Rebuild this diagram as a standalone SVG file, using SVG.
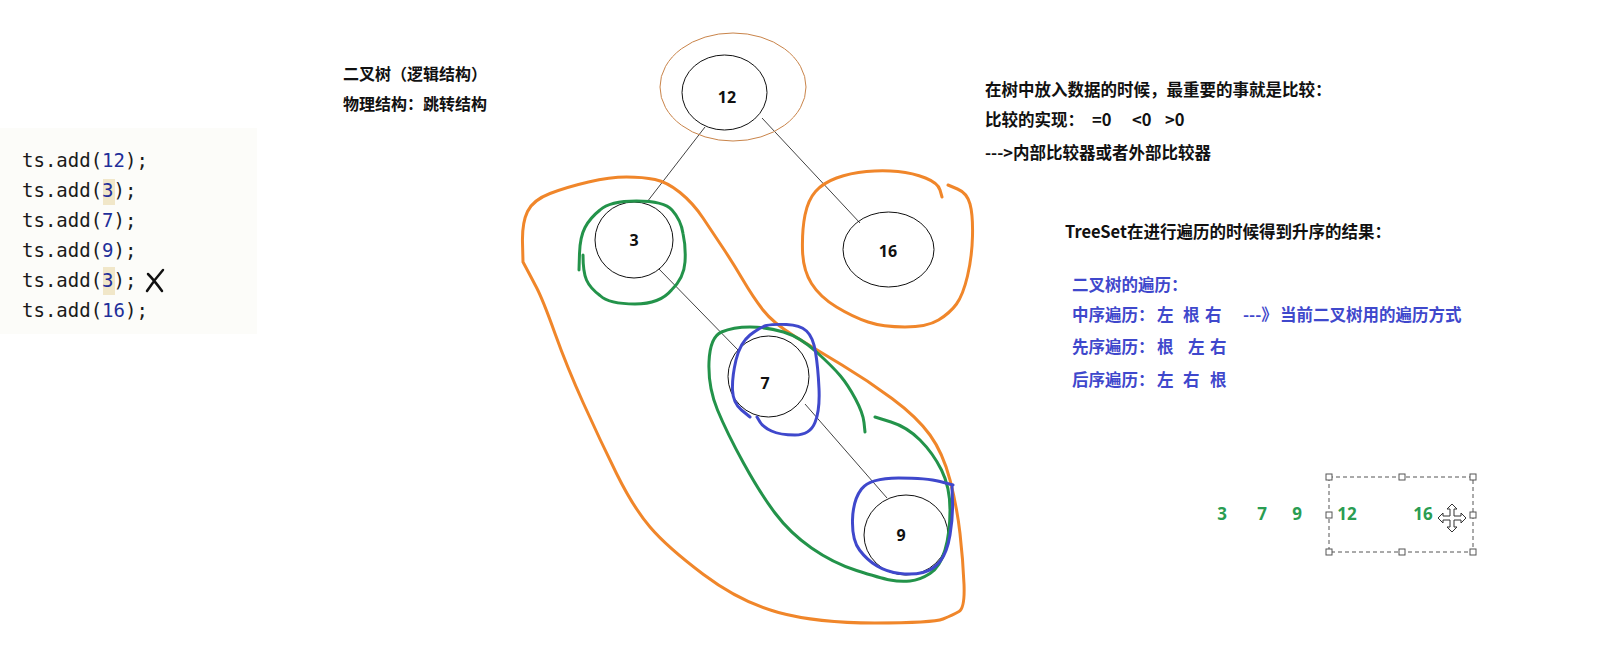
<svg xmlns="http://www.w3.org/2000/svg" width="1602" height="667" viewBox="0 0 1602 667">
<style>
.code{font-family:"DejaVu Sans Mono","Liberation Mono",monospace;font-size:19px;fill:#1a1a1a}
.num{fill:#1f2f9a}
.cn{font-family:"Noto Sans CJK SC","Noto Sans",sans-serif;font-size:16.5px;font-weight:bold;fill:#111}
.t1{font-size:16px}
.blue{fill:#3f48cc}
.grn{font-family:"Noto Sans","Liberation Sans",sans-serif;font-size:17px;font-weight:bold;fill:#2a9d52}
.node ellipse{fill:none;stroke:#111;stroke-width:1}
.node text{font-family:"Noto Sans","Liberation Sans",sans-serif;font-size:16px;font-weight:bold;fill:#111;text-anchor:middle}
.edge{stroke:#111;stroke-width:0.8;fill:none}
.o{fill:none;stroke:#f0862a;stroke-width:3;stroke-linecap:round;stroke-linejoin:round}
.g{fill:none;stroke:#23934a;stroke-width:3;stroke-linecap:round;stroke-linejoin:round}
.b{fill:none;stroke:#3f48cc;stroke-width:3;stroke-linecap:round;stroke-linejoin:round}
.h{fill:#fff;stroke:#555;stroke-width:1}
</style>
<rect width="1602" height="667" fill="#fff"/>
<rect x="0" y="128" width="257" height="206" fill="#fcfcf9"/>
<g id="code">
<rect x="103" y="179" width="12" height="26" fill="#f1e7c9"/>
<rect x="103" y="267" width="12" height="28" fill="#f1e7c9"/>
<text class="code" x="22" y="167">ts.add(<tspan class="num">12</tspan>);</text>
<text class="code" x="22" y="197">ts.add(<tspan class="num">3</tspan>);</text>
<text class="code" x="22" y="227">ts.add(<tspan class="num">7</tspan>);</text>
<text class="code" x="22" y="257">ts.add(<tspan class="num">9</tspan>);</text>
<text class="code" x="22" y="287">ts.add(<tspan class="num">3</tspan>);</text>
<text class="code" x="22" y="317">ts.add(<tspan class="num">16</tspan>);</text>
<path d="M148 274 Q154 280 162 291 M163 270 Q155 279 147 291" fill="none" stroke="#111" stroke-width="2.5" stroke-linecap="round"/>
</g>
<g id="titles">
<text class="cn t1" x="343" y="80">二叉树（逻辑结构）</text>
<text class="cn t1" x="343" y="110">物理结构：跳转结构</text>
<text class="cn" x="985" y="96">在树中放入数据的时候，最重要的事就是比较：</text>
<text class="cn" x="985" y="126">比较的实现：<tspan x="1092">=0</tspan><tspan x="1132">&lt;0</tspan><tspan x="1165">&gt;0</tspan></text>
<text class="cn" x="985" y="159">---&gt;内部比较器或者外部比较器</text>
<text class="cn" x="1065" y="238">TreeSet在进行遍历的时候得到升序的结果：</text>
<text class="cn blue" x="1072" y="291">二叉树的遍历：</text>
<text class="cn blue" x="1072" y="321">中序遍历：<tspan x="1157">左</tspan><tspan x="1183">根</tspan><tspan x="1205">右</tspan><tspan x="1243">---》</tspan><tspan x="1280">当前二叉树用的遍历方式</tspan></text>
<text class="cn blue" x="1072" y="353">先序遍历：<tspan x="1157">根</tspan><tspan x="1188">左</tspan><tspan x="1210">右</tspan></text>
<text class="cn blue" x="1072" y="386">后序遍历：<tspan x="1157">左</tspan><tspan x="1183">右</tspan><tspan x="1210">根</tspan></text>
</g>
<g id="connectors">
<line class="edge" x1="705" y1="127" x2="647" y2="202"/>
<line class="edge" x1="762" y1="118" x2="860" y2="223"/>
<line class="edge" x1="659" y1="269" x2="738" y2="350"/>
<line class="edge" x1="805" y1="404" x2="887" y2="498"/>
</g>
<g id="node-12" class="node">
<ellipse cx="724.5" cy="92.5" rx="42.5" ry="37.5"/>
<text x="727" y="103">12</text>
</g>
<g id="node-3" class="node">
<ellipse cx="634" cy="240" rx="39" ry="38"/>
<text x="634" y="246">3</text>
</g>
<g id="node-16" class="node">
<ellipse cx="888.5" cy="249.5" rx="45.5" ry="37.5"/>
<text x="888" y="257">16</text>
</g>
<g id="node-7" class="node">
<ellipse cx="768.5" cy="376.5" rx="40.5" ry="40.5"/>
<text x="765" y="389">7</text>
</g>
<g id="node-9" class="node">
<ellipse cx="906" cy="535" rx="42" ry="40"/>
<text x="901" y="541">9</text>
</g>
<g id="annotations">
<ellipse cx="733" cy="87" rx="73" ry="54" fill="none" stroke="#c9844a" stroke-width="1"/>
<path class="o" d="M523 262 L522.5 242.5 Q522 223 527.5 211.5 Q533 200 550 193.5 Q567 187 588.5 182 Q610 177 626.5 177 Q643 177 655 179.5 Q667 182 680 192.5 Q693 203 703 218 Q713 233 723 248 Q733 263 743 280 Q753 297 763 310 Q773 323 795 336.5 Q817 350 842 365 Q867 380 892 398.5 Q917 417 930 435 Q943 453 950 480 Q957 507 960 533.5 Q963 560 964 584 Q965 608 959 611.5 Q953 615 943 619 Q933 623 875 623 Q817 623 778.5 612.5 Q740 602 703.5 574.5 Q667 547 650 527 Q633 507 616.5 473.5 Q600 440 583.5 403.5 Q567 367 555 333.5 Q543 300 536.5 287.5 Q530 275 523 262"/>
<path class="o" d="M942 197 L940 190 Q938 183 925.5 178 Q913 173 898 171.5 Q883 170 866.5 171.5 Q850 173 836.5 178 Q823 183 815.5 191.5 Q808 200 805 215 Q802 230 802.5 250 Q803 270 811.5 283.5 Q820 297 836.5 307 Q853 317 868 322 Q883 327 905 327 Q927 327 938.5 320 Q950 313 956.5 304 Q963 295 967.5 276 Q972 257 972.5 236 Q973 215 970 204 Q967 193 957.5 189 L948 185"/>
<path class="g" d="M579 270 L579.5 253.5 Q580 237 585 227.5 Q590 218 600 210 Q610 201 636.5 201 Q664 201 672 210 Q681 220 683 233.5 Q686 247 685 262 Q684 278 671.5 290 Q660 304 635 304 Q609 304 600 295.5 Q590 288 586.5 280 Q583 272 583 255"/>
<path class="g" d="M865 432 L864 422.5 Q863 413 855.5 399 Q848 385 840.5 376 Q833 367 816.5 352 Q800 337 783.5 332 Q767 327 750 327 Q733 327 721.5 332 Q710 337 709 362 Q708 387 717.5 410 Q727 433 743.5 463 Q760 493 775 513 Q790 533 811.5 548 Q833 563 856.5 570.5 Q880 578 890 580 Q900 582 910 581 Q920 580 930 573.5 Q940 567 945 550 Q950 533 950 510 Q950 487 941.5 470 Q933 453 920 440 Q907 427 891 422 L875 417"/>
<path class="b" d="M750 417 L741.5 410 Q733 403 732.5 390 Q732 377 736 360 Q740 343 750 335 Q760 327 766.5 325.5 Q773 324 786.5 324.5 Q800 325 806.5 331 Q813 337 815.5 352 Q818 367 819 388.5 Q820 410 815 422.5 Q810 435 795 435 Q780 435 771.5 431 Q763 427 760 422 L757 417"/>
<path class="b" d="M953 485 L940 481.5 Q927 478 898.5 478 Q870 478 861.5 489 Q853 500 852.5 520 Q852 540 859.5 550 Q867 560 877 566 Q887 572 900 573.5 Q913 575 923 572.5 Q933 570 940 561.5 Q947 553 950 535 Q953 517 952.5 502 L952 487"/>
</g>
<g id="result">
<text class="grn" x="1222" y="520" text-anchor="middle">3</text>
<text class="grn" x="1262" y="520" text-anchor="middle">7</text>
<text class="grn" x="1297" y="520" text-anchor="middle">9</text>
<text class="grn" x="1347" y="520" text-anchor="middle">12</text>
<text class="grn" x="1423" y="520" text-anchor="middle">16</text>
<rect x="1329" y="477" width="144" height="75" fill="none" stroke="#555" stroke-width="1" stroke-dasharray="4 3"/>
<rect class="h" x="1326" y="474" width="6" height="6"/>
<rect class="h" x="1399" y="474" width="6" height="6"/>
<rect class="h" x="1470" y="474" width="6" height="6"/>
<rect class="h" x="1326" y="512" width="6" height="6"/>
<rect class="h" x="1470" y="512" width="6" height="6"/>
<rect class="h" x="1326" y="549" width="6" height="6"/>
<rect class="h" x="1399" y="549" width="6" height="6"/>
<rect class="h" x="1470" y="549" width="6" height="6"/>
<path transform="translate(1452 518)" d="M0 -14 L5 -9 L2 -9 L2 -2 L9 -2 L9 -5 L14 0 L9 5 L9 2 L2 2 L2 9 L5 9 L0 14 L-5 9 L-2 9 L-2 2 L-9 2 L-9 5 L-14 0 L-9 -5 L-9 -2 L-2 -2 L-2 -9 L-5 -9 Z" fill="#fff" stroke="#333" stroke-width="1"/>
</g>
</svg>
